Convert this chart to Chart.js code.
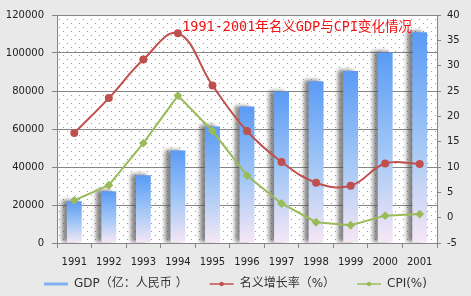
<!DOCTYPE html>
<html lang="zh">
<head>
<meta charset="UTF-8">
<title>1991-2001年名义GDP与CPI变化情况</title>
<script src="https://cdn.jsdelivr.net/npm/chart.js"></script>
<style>
  html, body { margin: 0; padding: 0; background: #e9e9e9; }
  #wrap { width: 471px; height: 296px; position: relative; }
</style>
</head>
<body>
<div id="wrap"><canvas id="gdpChart"></canvas></div>
<script>
// data
const years = ['1991', '1992', '1993', '1994', '1995', '1996', '1997', '1998', '1999', '2000', '2001'];
const gdp = [22006, 27195, 35673, 48638, 61340, 71814, 79715, 85196, 90564, 100280, 110863];
const nominalGrowth = [16.7, 23.6, 31.2, 36.4, 26.1, 17.1, 11.0, 6.9, 6.3, 10.7, 10.6];
const cpi = [3.4, 6.4, 14.7, 24.1, 17.1, 8.3, 2.8, -0.9, -1.5, 0.4, 0.7];
const gdpTicks = [0, 20000, 40000, 60000, 80000, 100000, 120000];
const rateTicks = [-5, 0, 5, 10, 15, 20, 25, 30, 35, 40];
const seriesNames = ['GDP（亿：人民币 ）', '名义增长率（%）', 'CPI(%)'];
const chartTitle = '1991-2001年名义GDP与CPI变化情况';

const axisGray = '#868686';
const tickFont = { family: '"DejaVu Sans", sans-serif', size: 10 };
const legendStroke = ['#7fb1f1', '#c0504d', '#9bbb59'];
const legendWidth = [3, 1.5, 1.5];

// per-bar vertical gradient, blue at the top fading to pale pink at zero
function barFill(c) {
    const chart = c.chart;
    if (c.type !== 'data' || !chart.chartArea) return '#6aa6f5';
    const y = chart.scales.y;
    const top = y.getPixelForValue(c.raw);
    const bottom = y.getPixelForValue(0);
    const g = chart.ctx.createLinearGradient(0, top, 0, bottom);
    g.addColorStop(0, '#5a9bf5');
    g.addColorStop(0.55, '#a6c9f6');
    g.addColorStop(1, '#f7e7f5');
    return g;
}

const backdrop = {
    id: 'backdrop',
    beforeDraw(chart) {
        const { ctx, chartArea: a } = chart;
        ctx.save();
        ctx.fillStyle = '#e9e9e9';
        ctx.fillRect(0, 0, chart.width, chart.height);
        ctx.fillStyle = '#ffffff';
        ctx.fillRect(a.left, a.top, a.width, a.height);
        // dotted plot area
        const tile = document.createElement('canvas');
        tile.width = 8; tile.height = 8;
        const t = tile.getContext('2d');
        t.fillStyle = '#9a9a9a';
        t.fillRect(3, 3, 1, 1);
        t.fillRect(7, 7, 1, 1);
        ctx.fillStyle = ctx.createPattern(tile, 'repeat');
        ctx.fillRect(a.left, a.top, a.width, a.height);
        ctx.restore();
    }
};

const barShadow = {
    id: 'barShadow',
    beforeDatasetDraw(chart, args) {
        if (args.index !== 0) return;
        const ctx = chart.ctx;
        ctx.save();
        ctx.shadowColor = 'rgba(70,70,70,0.65)';
        ctx.shadowBlur = 4;
        ctx.shadowOffsetX = -5;
        ctx.shadowOffsetY = -1;
    },
    afterDatasetDraw(chart, args) {
        if (args.index === 0) chart.ctx.restore();
    }
};

const innerTitle = {
    id: 'innerTitle',
    afterDatasetsDraw(chart) {
        const { ctx, chartArea: a } = chart;
        ctx.save();
        ctx.font = '13.5px "DejaVu Sans Mono", "Noto Sans CJK SC"';
        ctx.fillStyle = '#ee1515';
        ctx.textAlign = 'center';
        ctx.textBaseline = 'middle';
        ctx.fillText(chartTitle, a.left + a.width * 0.632, 27);
        ctx.restore();
    }
};

// pull the legend up a little so it sits just under the year labels
const legendShift = {
    id: 'legendShift',
    afterLayout(chart) {
        const lg = chart.legend;
        if (!lg) return;
        lg.top -= 14;
        lg.bottom -= 14;
    }
};

// small markers on the line samples of the legend
const legendDots = {
    id: 'legendDots',
    afterDraw(chart) {
        const lg = chart.legend;
        if (!lg || !lg.legendHitBoxes) return;
        const ctx = chart.ctx;
        lg.legendHitBoxes.forEach((hb, i) => {
            if (i === 0) return;
            ctx.save();
            ctx.fillStyle = legendStroke[i];
            ctx.beginPath();
            ctx.arc(hb.left + 12, lg.top + lg.options.labels.padding + 6, 2.2, 0, Math.PI * 2);
            ctx.fill();
            ctx.restore();
        });
    }
};

const ctx = document.getElementById('gdpChart').getContext('2d');
const gdpChart = new Chart(ctx, {
    type: 'bar',
    data: {
        labels: years,
        datasets: [{
            type: 'bar',
            label: seriesNames[0],
            data: gdp,
            yAxisID: 'y',
            backgroundColor: barFill,
            borderWidth: 0,
            categoryPercentage: 1,
            barPercentage: 0.43,
            order: 3
        }, {
            type: 'line',
            label: seriesNames[1],
            data: nominalGrowth,
            yAxisID: 'y1',
            borderColor: '#c0504d',
            backgroundColor: '#c0504d',
            borderWidth: 2,
            tension: 0.4,
            pointRadius: 3,
            pointStyle: 'circle',
            order: 1
        }, {
            type: 'line',
            label: seriesNames[2],
            data: cpi,
            yAxisID: 'y1',
            borderColor: '#9bbb59',
            backgroundColor: '#9bbb59',
            borderWidth: 2,
            tension: 0,
            pointRadius: 3,
            pointStyle: 'rectRot',
            order: 2
        }]
    },
    options: {
        responsive: true,
        maintainAspectRatio: false,
        animation: false,
        layout: { padding: { top: 15, bottom: -18, left: 0, right: 0 } },
        plugins: {
            tooltip: { enabled: false },
            legend: {
                position: 'bottom',
                labels: {
                    usePointStyle: true,
                    pointStyleWidth: 24,
                    padding: 22,
                    color: '#333',
                    font: { family: '"DejaVu Sans", "Noto Sans CJK SC"', size: 12 },
                    sort: (a, b) => a.datasetIndex - b.datasetIndex,
                    generateLabels(chart) {
                        const items = Chart.defaults.plugins.legend.labels.generateLabels(chart);
                        items.forEach(it => {
                            it.pointStyle = 'line';
                            it.strokeStyle = legendStroke[it.datasetIndex];
                            it.lineWidth = legendWidth[it.datasetIndex];
                        });
                        return items;
                    }
                }
            }
        },
        scales: {
            x: {
                offset: true,
                grid: { offset: true, drawOnChartArea: false, tickLength: 5, color: axisGray },
                border: { color: axisGray },
                ticks: { color: '#222', font: tickFont, padding: 8, maxRotation: 0 },
                afterFit(scale) { scale.height = 27; }
            },
            y: {
                position: 'left',
                min: gdpTicks[0],
                max: gdpTicks[gdpTicks.length - 1],
                afterBuildTicks(scale) { scale.ticks = gdpTicks.map(v => ({ value: v })); },
                grid: { color: axisGray, tickLength: 5 },
                border: { color: axisGray },
                ticks: { color: '#222', font: tickFont, padding: 8, callback: v => String(v) },
                afterFit(scale) { scale.width = 57; }
            },
            y1: {
                position: 'right',
                min: rateTicks[0],
                max: rateTicks[rateTicks.length - 1],
                afterBuildTicks(scale) { scale.ticks = rateTicks.map(v => ({ value: v })); },
                grid: { drawOnChartArea: false, color: axisGray, tickLength: 4 },
                border: { color: axisGray },
                ticks: { color: '#222', font: tickFont, padding: 6, callback: v => String(v) },
                afterFit(scale) { scale.width = 34; }
            }
        }
    },
    plugins: [backdrop, barShadow, innerTitle, legendShift, legendDots]
});
</script>
</body>
</html>
